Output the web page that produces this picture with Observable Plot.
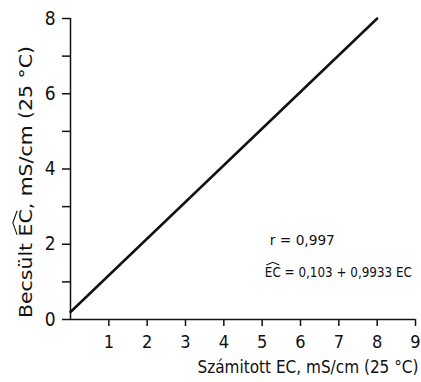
<!DOCTYPE html>
<html><head><meta charset="utf-8">
<script src="https://cdn.jsdelivr.net/npm/d3@7"></script>
<script src="https://cdn.jsdelivr.net/npm/@observablehq/plot@0.6"></script>
<style>body{margin:0;background:#fff}</style>
</head><body>
<script>
// Fitted regression line endpoints (calculated EC vs. estimated EC)
const lineX = [0, 8];
const lineY = [0.2, 8.0];
const xTicks = [1, 2, 3, 4, 5, 6, 7, 8, 9];
const yTicks = [0, 1, 2, 3, 4, 5, 6, 7, 8];
const annotations = ["r = 0,997", "EC = 0,103 + 0,9933 EC"];
const annoX = [5.2, 5.07];
const annoY = [2.1, 1.25];
const xLabel = "Számitott EC, mS/cm (25 °C)";
const yLabel = "Becsült EC, mS/cm (25 °C)";

const lineData = lineX.map((x, i) => ({x, y: lineY[i]}));
const annoData = annotations.map((t, i) => ({t, x: annoX[i], y: annoY[i]}));
const font = "'DejaVu Sans Condensed', 'DejaVu Sans', sans-serif";

const plot = Plot.plot({
  width: 421, height: 382,
  marginLeft: 70, marginRight: 6, marginTop: 18, marginBottom: 63,
  style: {fontFamily: font, fontSize: "16px", color: "#111", background: "#fff"},
  x: {domain: [0, 9]},
  y: {domain: [0, 8]},
  marks: [
    Plot.axisX({ticks: xTicks, tickSize: 7, tickPadding: 9, fontSize: 18, strokeWidth: 1.5,
      label: null}),
    Plot.axisY({ticks: yTicks, tickSize: 8, tickPadding: 7, fontSize: 19, strokeWidth: 1.5,
      tickFormat: d => d % 2 === 0 ? d : "", label: null}),
    Plot.ruleX([0], {strokeWidth: 1.5}),
    Plot.ruleY([0], {strokeWidth: 1.5}),
    Plot.line(lineData, {x: "x", y: "y", strokeWidth: 2.5, stroke: "#111"}),
    Plot.text(annoData, {x: "x", y: "y", text: "t", textAnchor: "start", fontSize: 14.5, fill: "#111"}),
    Plot.text([xLabel], {text: d => d, frameAnchor: "bottom-right", textAnchor: "end", dy: 53, dx: 3, fontSize: 17, fill: "#111"}),
    Plot.text([yLabel], {text: d => d, frameAnchor: "left", textAnchor: "middle", rotate: -90, dx: -44, dy: 13, fontSize: 18, fill: "#111"})
  ]
});
document.body.append(plot);

// stretch texts to the widths seen in the reference
const widths = new Map([[annotations[0], 65], [annotations[1], 147], [xLabel, 221], [yLabel, 272]]);
plot.querySelectorAll("text").forEach(t => {
  const w = widths.get(t.textContent);
  if (w) { t.setAttribute("textLength", w); t.setAttribute("lengthAdjust", "spacingAndGlyphs"); }
});

// add circumflex hats over "EC" where needed
function addHat(textEl, idx, h) {
  const s = textEl.getStartPositionOfChar(idx);
  const e = textEl.getEndPositionOfChar(idx + 1);
  const fs = parseFloat(getComputedStyle(textEl).fontSize);
  const top = s.y - fs * 0.84;
  const mid = (s.x + e.x) / 2;
  const p = document.createElementNS("http://www.w3.org/2000/svg", "path");
  p.setAttribute("d", `M${s.x + 1.5},${top} L${mid},${top - fs * h} L${e.x - 1.5},${top}`);
  p.setAttribute("fill", "none");
  p.setAttribute("stroke", "#111");
  p.setAttribute("stroke-width", "1.1");
  const tr = textEl.getAttribute("transform");
  if (tr) p.setAttribute("transform", tr);
  textEl.parentNode.appendChild(p);
}
plot.querySelectorAll("text").forEach(t => {
  const c = t.textContent;
  if (c === yLabel) addHat(t, c.indexOf("EC"), 0.24);
  if (c === annotations[1]) addHat(t, 0, 0.18);
});
</script>
</body></html>
